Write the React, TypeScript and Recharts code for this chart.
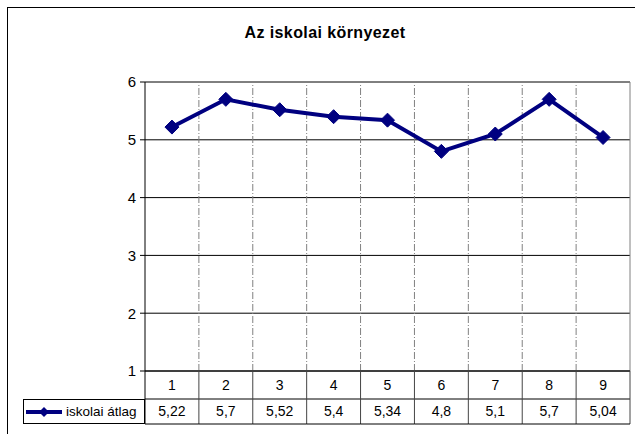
import { LineChart, Line, XAxis, YAxis, CartesianGrid, ReferenceLine } from "recharts"

// chart content
const title = "Az iskolai környezet"
const seriesName = "iskolai átlag"
const categories = ["1", "2", "3", "4", "5", "6", "7", "8", "9"]
const values = [5.22, 5.7, 5.52, 5.4, 5.34, 4.8, 5.1, 5.7, 5.04]
const yTicks = [1, 2, 3, 4, 5, 6]

const chartData = categories.map((c, i) => ({ x: i + 1, label: c, value: values[i] }))
const xTicks = chartData.map((d) => d.x)
// band boundaries between the categories (for the dashed grid)
const bandEdges = xTicks.slice(0, -1).map((x) => x + 0.5)

const W = 635
const H = 434
const PLOT_LEFT = 145
const PLOT_RIGHT = 630
const HALF_BAND = (PLOT_RIGHT - PLOT_LEFT) / categories.length / 2
const NAVY = "#000080"
const FONT = "'Liberation Sans', Arial, sans-serif"

const fmt = (v: number) => String(v).replace(".", ",")

function Diamond(props: any) {
  const { cx, cy } = props
  if (cx == null || cy == null) return null
  const r = 7
  return (
    <polygon
      points={`${cx},${cy - r} ${cx + r},${cy} ${cx},${cy + r} ${cx - r},${cy}`}
      fill={NAVY}
      stroke={NAVY}
    />
  )
}

// first table row: category labels
function CatTick(props: any) {
  const { x, y, payload, index } = props
  const label = categories[payload.value - 1]
  return (
    <g>
      {index === 0 && <line x1={x - HALF_BAND} y1={y} x2={x - HALF_BAND} y2={y + 28} stroke="#000" />}
      <line x1={x + HALF_BAND} y1={y} x2={x + HALF_BAND} y2={y + 28} stroke="#444" />
      <text x={x} y={y + 19} textAnchor="middle" fontSize={14} fontFamily={FONT} fill="#000">
        {label}
      </text>
    </g>
  )
}

// second table row: values
function ValTick(props: any) {
  const { x, y, payload, index } = props
  const v = values[payload.value - 1]
  return (
    <g>
      {index === 0 && <line x1={x - HALF_BAND} y1={y} x2={x - HALF_BAND} y2={y + 25} stroke="#000" />}
      <line x1={x + HALF_BAND} y1={y} x2={x + HALF_BAND} y2={y + 25} stroke="#444" />
      <line x1={x - HALF_BAND} y1={y + 25} x2={x + HALF_BAND} y2={y + 25} stroke="#000" />
      <text x={x} y={y + 17} textAnchor="middle" fontSize={14} fontFamily={FONT} fill="#000">
        {fmt(v)}
      </text>
    </g>
  )
}

export default function App() {
  return (
    <div
      style={{
        position: "absolute",
        left: 0,
        top: 0,
        width: W,
        height: H,
        overflow: "hidden",
        background: "#fff",
        fontFamily: FONT,
      }}
    >
      {/* outer chart border, runs off the right/bottom edge */}
      <div
        style={{
          position: "absolute",
          left: 7,
          top: 7,
          width: 660,
          height: 460,
          border: "1px solid #000",
        }}
      />
      <div
        style={{
          position: "absolute",
          top: 24,
          left: 0,
          width: 650,
          textAlign: "center",
          fontWeight: "bold",
          fontSize: 16,
          letterSpacing: 0.4,
          color: "#000",
        }}
      >
        {title}
      </div>

      <div style={{ position: "absolute", left: 0, top: 0 }}>
        <LineChart width={W} height={H} data={chartData} margin={{ top: 82, right: 5, left: 85, bottom: 10 }}>
          <CartesianGrid vertical={false} stroke="#000" xAxisId="cat" />
          {bandEdges.map((e) => (
            <ReferenceLine key={e} x={e} xAxisId="cat" stroke="#808080" strokeDasharray="7 2 1 2" />
          ))}
          <ReferenceLine y={6} xAxisId="cat" stroke="#808080" />
          <ReferenceLine x={9.5} xAxisId="cat" stroke="#808080" />
          <XAxis
            xAxisId="cat"
            dataKey="x"
            type="number"
            domain={[0.5, 9.5]}
            ticks={xTicks}
            height={28}
            tickSize={0}
            tickMargin={0}
            tickLine={false}
            axisLine={{ stroke: "#000" }}
            tick={<CatTick />}
            interval={0}
          />
          <XAxis
            xAxisId="val"
            dataKey="x"
            type="number"
            domain={[0.5, 9.5]}
            ticks={xTicks}
            height={25}
            tickSize={0}
            tickMargin={0}
            tickLine={false}
            axisLine={{ stroke: "#000" }}
            tick={<ValTick />}
            interval={0}
          />
          <YAxis
            domain={[1, 6]}
            ticks={yTicks}
            width={60}
            tickSize={5}
            tickMargin={4}
            axisLine={{ stroke: "#000" }}
            tickLine={{ stroke: "#000" }}
            tick={{ fill: "#000", fontSize: 15, fontFamily: FONT }}
          />
          <Line
            xAxisId="cat"
            type="linear"
            dataKey="value"
            stroke={NAVY}
            strokeWidth={4}
            dot={<Diamond />}
            activeDot={false}
            isAnimationActive={false}
          />
        </LineChart>
      </div>

      {/* legend key cell of the data table */}
      <div
        style={{
          position: "absolute",
          left: 23,
          top: 399,
          width: 122,
          height: 25,
          boxSizing: "border-box",
          border: "1px solid #000",
          display: "flex",
          alignItems: "center",
          fontSize: 13.5,
          color: "#000",
          whiteSpace: "nowrap",
        }}
      >
        <svg width={40} height={16} style={{ marginLeft: 2 }}>
          <line x1={0} y1={8} x2={36} y2={8} stroke={NAVY} strokeWidth={4} />
          <polygon points="18,3 23,8 18,13 13,8" fill={NAVY} />
        </svg>
        <span>{seriesName}</span>
      </div>
    </div>
  )
}
